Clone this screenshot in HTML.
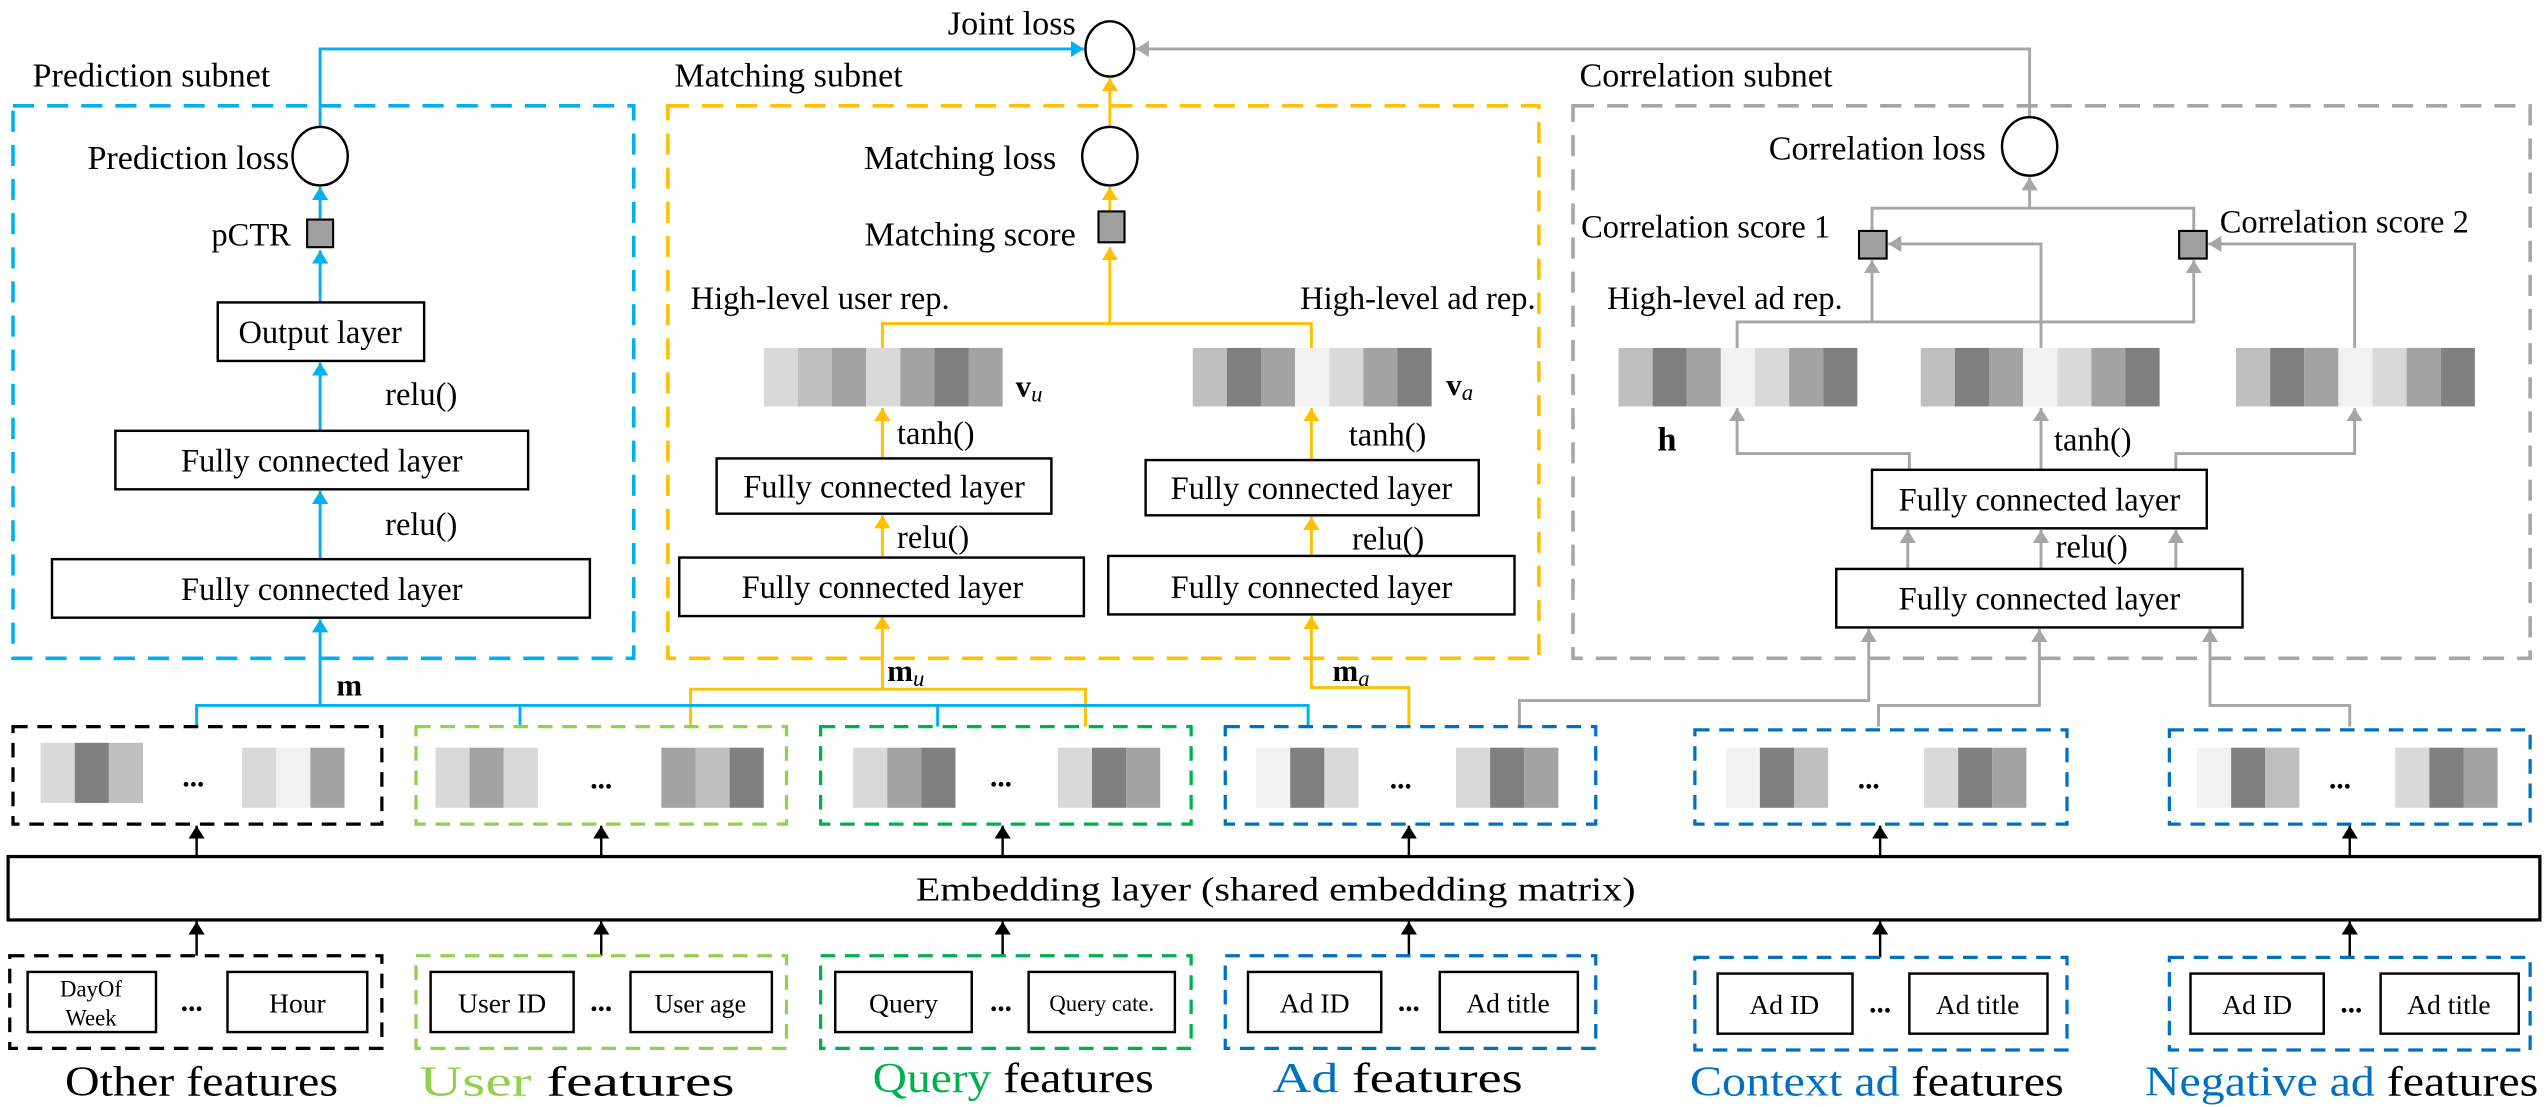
<!DOCTYPE html>
<html><head><meta charset="utf-8"><style>
html,body{margin:0;padding:0;background:#fff;}
svg{display:block;}
text{font-family:"Liberation Serif","Times New Roman",serif;fill:#000;}
</style></head><body>
<svg width="2548" height="1107" viewBox="0 0 1568 681" xmlns="http://www.w3.org/2000/svg">
<defs>
<marker id="ab" markerWidth="8" markerHeight="10" refX="8" refY="5" orient="auto" markerUnits="userSpaceOnUse"><path d="M0,0 L8,5 L0,10 z" fill="#00b0f0"/></marker>
<marker id="ao" markerWidth="8" markerHeight="10" refX="8" refY="5" orient="auto" markerUnits="userSpaceOnUse"><path d="M0,0 L8,5 L0,10 z" fill="#ffc000"/></marker>
<marker id="ag" markerWidth="8" markerHeight="10" refX="8" refY="5" orient="auto" markerUnits="userSpaceOnUse"><path d="M0,0 L8,5 L0,10 z" fill="#a6a6a6"/></marker>
<marker id="ak" markerWidth="8" markerHeight="10" refX="8" refY="5" orient="auto" markerUnits="userSpaceOnUse"><path d="M0,0 L8,5 L0,10 z" fill="#000"/></marker>
</defs>

<g fill="none" stroke-width="2.2" stroke-dasharray="13,8">
<rect x="8" y="65" width="382" height="340" stroke="#00b0f0"/>
<rect x="411" y="65" width="536" height="340" stroke="#ffc000"/>
<rect x="968" y="65" width="589" height="340" stroke="#a6a6a6"/>
</g>
<g font-size="21">
<text x="20" y="53">Prediction subnet</text>
<text x="415" y="53">Matching subnet</text>
<text x="972" y="53">Correlation subnet</text>
<text x="662" y="21" text-anchor="end">Joint loss</text>
</g>

<ellipse cx="683" cy="30" rx="15" ry="17" fill="#fff" stroke="#000" stroke-width="1.5"/>
<polyline points="197,78 197,30 667,30" fill="none" stroke="#00b0f0" stroke-width="1.8" marker-end="url(#ab)"/>
<polyline points="1249,72 1249,30 699,30" fill="none" stroke="#a6a6a6" stroke-width="1.8" marker-end="url(#ag)"/>
<line x1="683" y1="78" x2="683" y2="48" stroke="#ffc000" stroke-width="1.8" marker-end="url(#ao)"/>

<g stroke="#00b0f0" stroke-width="1.8" marker-end="url(#ab)">
<line x1="197" y1="135" x2="197" y2="115"/>
<line x1="197" y1="186" x2="197" y2="154"/>
<line x1="197" y1="265" x2="197" y2="223"/>
<line x1="197" y1="344" x2="197" y2="302"/>
<line x1="197" y1="434" x2="197" y2="381"/>
</g>
<ellipse cx="197" cy="96" rx="17" ry="18" fill="#fff" stroke="#000" stroke-width="1.5"/>
<rect x="189" y="135" width="16" height="17" fill="#a0a0a0" stroke="#000" stroke-width="1.3"/>
<g font-size="20">
<text x="178" y="104" text-anchor="end" font-size="21">Prediction loss</text>
<text x="179" y="151" text-anchor="end">pCTR</text>
<text x="237" y="249">relu()</text>
<text x="237" y="329">relu()</text>
</g>
<g fill="#fff" stroke="#000" stroke-width="1.5">
<rect x="134" y="186" width="127" height="36"/>
<rect x="71" y="265" width="254" height="36"/>
<rect x="32" y="344" width="331" height="36"/>
</g>
<g font-size="20" text-anchor="middle">
<text x="197" y="211">Output layer</text>
<text x="198" y="290">Fully connected layer</text>
<text x="198" y="369">Fully connected layer</text>
</g>

<g stroke="#ffc000" stroke-width="1.8" fill="none">
<line x1="683" y1="130" x2="683" y2="115" marker-end="url(#ao)"/>
<line x1="683" y1="199" x2="683" y2="152" marker-end="url(#ao)"/>
<polyline points="543,214 543,199 807,199 807,214"/>
<line x1="543" y1="282" x2="543" y2="251" marker-end="url(#ao)"/>
<line x1="807" y1="283" x2="807" y2="251" marker-end="url(#ao)"/>
<line x1="543" y1="342" x2="543" y2="317" marker-end="url(#ao)"/>
<line x1="807" y1="342" x2="807" y2="318" marker-end="url(#ao)"/>
<line x1="543" y1="424" x2="543" y2="379" marker-end="url(#ao)"/>
<polyline points="425,447 425,424 668,424 668,447"/>
<polyline points="867,447 867,423 807,423 807,379" marker-end="url(#ao)"/>
</g>
<ellipse cx="683" cy="96" rx="17" ry="18" fill="#fff" stroke="#000" stroke-width="1.5"/>
<rect x="676" y="130" width="16" height="19" fill="#a0a0a0" stroke="#000" stroke-width="1.3"/>
<g font-size="20">
<text x="650" y="104" text-anchor="end" font-size="21">Matching loss</text>
<text x="662" y="151" text-anchor="end" font-size="21">Matching score</text>
<text x="425" y="190">High-level user rep.</text>
<text x="945" y="190" text-anchor="end">High-level ad rep.</text>
<text x="552" y="273">tanh()</text>
<text x="830" y="274">tanh()</text>
<text x="552" y="337">relu()</text>
<text x="832" y="338">relu()</text>
</g>
<g>
<rect x="470" y="214" width="21" height="36" fill="#d9d9d9"/><rect x="491" y="214" width="21" height="36" fill="#bfbfbf"/><rect x="512" y="214" width="21" height="36" fill="#a3a3a3"/><rect x="533" y="214" width="21" height="36" fill="#d9d9d9"/><rect x="554" y="214" width="21" height="36" fill="#a3a3a3"/><rect x="575" y="214" width="21" height="36" fill="#808080"/><rect x="596" y="214" width="21" height="36" fill="#a3a3a3"/>
</g>
<g>
<rect x="734" y="214" width="21" height="36" fill="#bfbfbf"/><rect x="755" y="214" width="21" height="36" fill="#808080"/><rect x="776" y="214" width="21" height="36" fill="#a3a3a3"/><rect x="797" y="214" width="21" height="36" fill="#f2f2f2"/><rect x="818" y="214" width="21" height="36" fill="#d9d9d9"/><rect x="839" y="214" width="21" height="36" fill="#a3a3a3"/><rect x="860" y="214" width="21" height="36" fill="#808080"/>
</g>
<text x="625" y="244" font-size="19" font-weight="bold">v<tspan font-size="14" font-weight="normal" font-style="italic" dy="3">u</tspan></text>
<text x="890" y="243" font-size="19" font-weight="bold">v<tspan font-size="14" font-weight="normal" font-style="italic" dy="3">a</tspan></text>
<g fill="#fff" stroke="#000" stroke-width="1.5">
<rect x="441" y="282" width="206" height="34"/>
<rect x="705" y="283" width="205" height="34"/>
<rect x="418" y="343" width="249" height="36"/>
<rect x="682" y="342" width="250" height="36"/>
</g>
<g font-size="20" text-anchor="middle">
<text x="544" y="306">Fully connected layer</text>
<text x="807" y="307">Fully connected layer</text>
<text x="543" y="368">Fully connected layer</text>
<text x="807" y="368">Fully connected layer</text>
</g>

<g stroke="#a6a6a6" stroke-width="1.8" fill="none">
<polyline points="1152,142 1152,128 1350,128 1350,142"/>
<line x1="1249" y1="128" x2="1249" y2="109" marker-end="url(#ag)"/>
<polyline points="1069,214 1069,198 1350,198 1350,160" marker-end="url(#ag)"/>
<line x1="1152" y1="198" x2="1152" y2="160" marker-end="url(#ag)"/>
<polyline points="1256,214 1256,150 1162,150" marker-end="url(#ag)"/>
<polyline points="1449,214 1449,150 1359,150" marker-end="url(#ag)"/>
<polyline points="1175,289 1175,279 1069,279 1069,251" marker-end="url(#ag)"/>
<line x1="1256" y1="289" x2="1256" y2="251" marker-end="url(#ag)"/>
<polyline points="1339,289 1339,279 1449,279 1449,251" marker-end="url(#ag)"/>
<line x1="1174" y1="350" x2="1174" y2="326" marker-end="url(#ag)"/>
<line x1="1256" y1="350" x2="1256" y2="326" marker-end="url(#ag)"/>
<line x1="1339" y1="350" x2="1339" y2="326" marker-end="url(#ag)"/>
<polyline points="935,447 935,431 1150,431 1150,387" marker-end="url(#ag)"/>
<polyline points="1156,447 1156,434 1255,434 1255,387" marker-end="url(#ag)"/>
<polyline points="1446,447 1446,434 1360,434 1360,387" marker-end="url(#ag)"/>
</g>
<ellipse cx="1249" cy="90" rx="17" ry="18" fill="#fff" stroke="#000" stroke-width="1.5"/>
<rect x="1144" y="142" width="17" height="17" fill="#a0a0a0" stroke="#000" stroke-width="1.3"/>
<rect x="1341" y="142" width="17" height="17" fill="#a0a0a0" stroke="#000" stroke-width="1.3"/>
<g font-size="20">
<text x="1222" y="98" text-anchor="end" font-size="21">Correlation loss</text>
<text x="973" y="146">Correlation score 1</text>
<text x="1366" y="143">Correlation score 2</text>
<text x="989" y="190">High-level ad rep.</text>
<text x="1264" y="277">tanh()</text>
<text x="1265" y="343">relu()</text>
<text x="1020" y="277" font-size="21" font-weight="bold">h</text>
</g>
<g id="s1">
<rect x="996" y="214" width="21" height="36" fill="#bfbfbf"/><rect x="1017" y="214" width="21" height="36" fill="#808080"/><rect x="1038" y="214" width="21" height="36" fill="#a3a3a3"/><rect x="1059" y="214" width="21" height="36" fill="#f2f2f2"/><rect x="1080" y="214" width="21" height="36" fill="#d9d9d9"/><rect x="1101" y="214" width="21" height="36" fill="#a3a3a3"/><rect x="1122" y="214" width="21" height="36" fill="#808080"/>
</g>
<use href="#s1" x="186"/>
<use href="#s1" x="380"/>
<g fill="#fff" stroke="#000" stroke-width="1.5">
<rect x="1152" y="289" width="206" height="36"/>
<rect x="1130" y="350" width="250" height="36"/>
</g>
<g font-size="20" text-anchor="middle">
<text x="1255" y="314">Fully connected layer</text>
<text x="1255" y="375">Fully connected layer</text>
</g>

<g stroke="#00b0f0" stroke-width="1.8" fill="none">
<polyline points="121,447 121,434 805,434 805,447"/>
<line x1="320" y1="434" x2="320" y2="447"/>
<line x1="577" y1="434" x2="577" y2="447"/>
</g>
<text x="207" y="428" font-size="19" font-weight="bold">m</text>
<text x="546" y="419" font-size="19" font-weight="bold">m<tspan font-size="14" font-weight="normal" font-style="italic" dy="3">u</tspan></text>
<text x="820" y="419" font-size="19" font-weight="bold">m<tspan font-size="14" font-weight="normal" font-style="italic" dy="3">a</tspan></text>

<g fill="none" stroke-width="2" stroke-dasharray="9,6">
<rect x="8" y="447" width="227" height="60" stroke="#000"/>
<rect x="256" y="447" width="228" height="60" stroke="#92d050"/>
<rect x="505" y="447" width="228" height="60" stroke="#00b050"/>
<rect x="754" y="447" width="228" height="60" stroke="#0070c0"/>
<rect x="1043" y="449" width="229" height="58" stroke="#0070c0"/>
<rect x="1335" y="449" width="222" height="58" stroke="#0070c0"/>
</g>
<g>
<rect x="25" y="457" width="21" height="37" fill="#d9d9d9"/><rect x="46" y="457" width="21" height="37" fill="#808080"/><rect x="67" y="457" width="21" height="37" fill="#bfbfbf"/>
<rect x="149" y="460" width="21" height="37" fill="#d9d9d9"/><rect x="170" y="460" width="21" height="37" fill="#f2f2f2"/><rect x="191" y="460" width="21" height="37" fill="#a3a3a3"/>
<rect x="268" y="460" width="21" height="37" fill="#d9d9d9"/><rect x="289" y="460" width="21" height="37" fill="#a3a3a3"/><rect x="310" y="460" width="21" height="37" fill="#d9d9d9"/>
<rect x="407" y="460" width="21" height="37" fill="#a3a3a3"/><rect x="428" y="460" width="21" height="37" fill="#bfbfbf"/><rect x="449" y="460" width="21" height="37" fill="#808080"/>
<rect x="525" y="460" width="21" height="37" fill="#d9d9d9"/><rect x="546" y="460" width="21" height="37" fill="#a3a3a3"/><rect x="567" y="460" width="21" height="37" fill="#808080"/>
<rect x="651" y="460" width="21" height="37" fill="#d9d9d9"/><rect x="672" y="460" width="21" height="37" fill="#808080"/><rect x="693" y="460" width="21" height="37" fill="#a3a3a3"/>
<rect x="773" y="460" width="21" height="37" fill="#f2f2f2"/><rect x="794" y="460" width="21" height="37" fill="#808080"/><rect x="815" y="460" width="21" height="37" fill="#d9d9d9"/>
<rect x="896" y="460" width="21" height="37" fill="#d9d9d9"/><rect x="917" y="460" width="21" height="37" fill="#808080"/><rect x="938" y="460" width="21" height="37" fill="#a3a3a3"/>
<rect x="1062" y="460" width="21" height="37" fill="#f2f2f2"/><rect x="1083" y="460" width="21" height="37" fill="#808080"/><rect x="1104" y="460" width="21" height="37" fill="#bfbfbf"/>
<rect x="1184" y="460" width="21" height="37" fill="#d9d9d9"/><rect x="1205" y="460" width="21" height="37" fill="#808080"/><rect x="1226" y="460" width="21" height="37" fill="#a3a3a3"/>
<rect x="1352" y="460" width="21" height="37" fill="#f2f2f2"/><rect x="1373" y="460" width="21" height="37" fill="#808080"/><rect x="1394" y="460" width="21" height="37" fill="#bfbfbf"/>
<rect x="1474" y="460" width="21" height="37" fill="#d9d9d9"/><rect x="1495" y="460" width="21" height="37" fill="#808080"/><rect x="1516" y="460" width="21" height="37" fill="#a3a3a3"/>
</g>
<g font-size="18" font-weight="bold" text-anchor="middle">
<text x="119" y="484">...</text><text x="370" y="485">...</text><text x="616" y="484">...</text><text x="862" y="485">...</text><text x="1150" y="485">...</text><text x="1440" y="485">...</text>
</g>

<rect x="5" y="527" width="1558" height="39" fill="#fff" stroke="#000" stroke-width="2"/>
<text x="785" y="554" font-size="21" text-anchor="middle" textLength="443" lengthAdjust="spacingAndGlyphs">Embedding layer (shared embedding matrix)</text>
<g stroke="#000" stroke-width="1.5" marker-end="url(#ak)">
<line x1="121" y1="527" x2="121" y2="508"/><line x1="370" y1="527" x2="370" y2="508"/><line x1="617" y1="527" x2="617" y2="508"/><line x1="867" y1="527" x2="867" y2="508"/><line x1="1157" y1="527" x2="1157" y2="508"/><line x1="1446" y1="527" x2="1446" y2="508"/>
<line x1="121" y1="588" x2="121" y2="567"/><line x1="370" y1="588" x2="370" y2="567"/><line x1="617" y1="588" x2="617" y2="567"/><line x1="867" y1="588" x2="867" y2="567"/><line x1="1157" y1="589" x2="1157" y2="567"/><line x1="1446" y1="589" x2="1446" y2="567"/>
</g>

<g fill="none" stroke-width="2" stroke-dasharray="9,6">
<rect x="6" y="588" width="229" height="57" stroke="#000"/>
<rect x="256" y="588" width="228" height="57" stroke="#92d050"/>
<rect x="505" y="588" width="228" height="57" stroke="#00b050"/>
<rect x="754" y="588" width="228" height="57" stroke="#0070c0"/>
<rect x="1043" y="589" width="229" height="57" stroke="#0070c0"/>
<rect x="1335" y="589" width="222" height="57" stroke="#0070c0"/>
</g>
<g fill="#fff" stroke="#000" stroke-width="1.5">
<rect x="17" y="598" width="79" height="37"/><rect x="140" y="598" width="86" height="37"/>
<rect x="265" y="598" width="88" height="37"/><rect x="388" y="598" width="87" height="37"/>
<rect x="514" y="598" width="84" height="37"/><rect x="633" y="598" width="90" height="37"/>
<rect x="768" y="598" width="82" height="37"/><rect x="886" y="598" width="85" height="37"/>
<rect x="1057" y="599" width="83" height="37"/><rect x="1175" y="599" width="85" height="37"/>
<rect x="1348" y="599" width="82" height="37"/><rect x="1465" y="599" width="85" height="37"/>
</g>
<g font-size="17" text-anchor="middle">
<text x="56" y="613" font-size="14">DayOf</text><text x="56" y="631" font-size="14">Week</text>
<text x="183" y="623">Hour</text>
<text x="309" y="623">User ID</text><text x="431" y="623" font-size="16">User age</text>
<text x="556" y="623">Query</text><text x="678" y="622" font-size="14">Query cate.</text>
<text x="809" y="623">Ad ID</text><text x="928" y="623">Ad title</text>
<text x="1098" y="624">Ad ID</text><text x="1217" y="624">Ad title</text>
<text x="1389" y="624">Ad ID</text><text x="1507" y="624">Ad title</text>
</g>
<g font-size="18" font-weight="bold" text-anchor="middle">
<text x="118" y="622">...</text><text x="370" y="622">...</text><text x="616" y="622">...</text><text x="867" y="622">...</text><text x="1157" y="623">...</text><text x="1447" y="623">...</text>
</g>

<g font-size="26">
<text x="40" y="674" textLength="168" lengthAdjust="spacingAndGlyphs">Other features</text>
<text x="258" y="674" textLength="194" lengthAdjust="spacingAndGlyphs"><tspan fill="#92d050">User</tspan> features</text>
<text x="537" y="672" textLength="173" lengthAdjust="spacingAndGlyphs"><tspan fill="#00b050">Query</tspan> features</text>
<text x="783" y="672" textLength="154" lengthAdjust="spacingAndGlyphs"><tspan fill="#0070c0">Ad</tspan> features</text>
<text x="1040" y="674" textLength="230" lengthAdjust="spacingAndGlyphs"><tspan fill="#0070c0">Context ad</tspan> features</text>
<text x="1320" y="674" textLength="242" lengthAdjust="spacingAndGlyphs"><tspan fill="#0070c0">Negative ad</tspan> features</text>
</g>
</svg>
</body></html>
